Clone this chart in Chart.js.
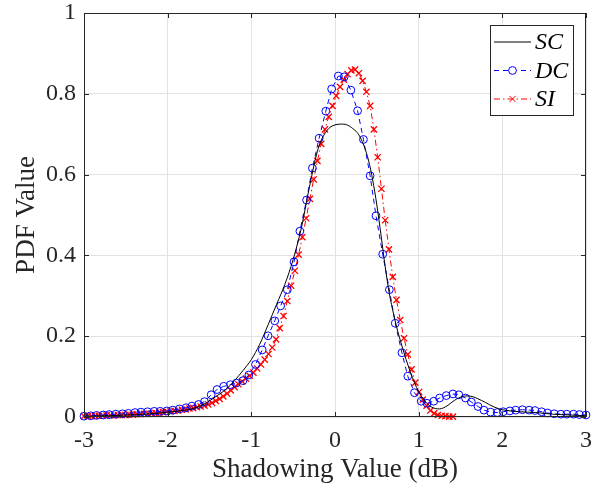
<!DOCTYPE html>
<html>
<head>
<meta charset="utf-8">
<script src="https://cdn.jsdelivr.net/npm/chart.js@4.4.0/dist/chart.umd.min.js"></script>
<style>
html, body { margin: 0; padding: 0; background: #fff; }
</style>
</head>
<body>
<canvas id="pdfChart" width="596" height="487"></canvas>
<script>
const xTicks = [-3, -2, -1, 0, 1, 2, 3];
const yTicks = [0, 0.2, 0.4, 0.6, 0.8, 1];
const seriesNames = ['SC', 'DC', 'SI'];

const scX = [-3, -2.9, -2.8, -2.7, -2.6, -2.5, -2.4, -2.3, -2.2, -2.1,
    -2.0, -1.9, -1.8, -1.7, -1.6, -1.5, -1.4, -1.3, -1.2, -1.1,
    -1.0, -0.9, -0.8, -0.7, -0.6, -0.5, -0.4, -0.3, -0.2, -0.1,
    0.0, 0.1, 0.2, 0.3, 0.4, 0.45, 0.5, 0.55, 0.6, 0.65,
    0.7, 0.75, 0.8, 0.85, 0.9, 0.95, 1.0, 1.05, 1.1, 1.15,
    1.2, 1.25, 1.3, 1.35, 1.4, 1.45, 1.5, 1.55, 1.6, 1.65,
    1.7, 1.75, 1.8, 1.85, 1.9, 1.95, 2.0, 2.1, 2.2, 2.3,
    2.4, 2.5, 2.6, 2.7, 2.8, 2.9, 3.0];
const scY = [0.002, 0.002, 0.003, 0.003, 0.004, 0.005, 0.006, 0.007, 0.008, 0.010,
    0.012, 0.014, 0.017, 0.021, 0.028, 0.040, 0.054, 0.069, 0.090, 0.115,
    0.142, 0.180, 0.228, 0.278, 0.328, 0.390, 0.470, 0.575, 0.665, 0.708,
    0.723, 0.725, 0.716, 0.693, 0.636, 0.587, 0.525, 0.450, 0.372, 0.305,
    0.255, 0.212, 0.176, 0.142, 0.112, 0.085, 0.063, 0.046, 0.033, 0.025,
    0.021, 0.020, 0.023, 0.029, 0.037, 0.044, 0.049, 0.052, 0.052, 0.050,
    0.046, 0.041, 0.036, 0.030, 0.025, 0.021, 0.018, 0.015, 0.013, 0.012,
    0.011, 0.009, 0.007, 0.006, 0.005, 0.004, 0.003];

const dcX = [-3.00, -2.92, -2.85, -2.77, -2.70, -2.62, -2.54, -2.47, -2.39, -2.32,
    -2.24, -2.16, -2.09, -2.01, -1.94, -1.86, -1.78, -1.71, -1.63, -1.56,
    -1.48, -1.41, -1.33, -1.25, -1.18, -1.10, -1.03, -0.95, -0.87, -0.80,
    -0.72, -0.65, -0.57, -0.49, -0.42, -0.34, -0.27, -0.19, -0.11, -0.04,
    0.04, 0.11, 0.19, 0.27, 0.34, 0.42, 0.49, 0.57, 0.65, 0.72,
    0.80, 0.87, 0.95, 1.03, 1.10, 1.18, 1.25, 1.33, 1.41, 1.48,
    1.56, 1.63, 1.71, 1.78, 1.86, 1.94, 2.01, 2.09, 2.16, 2.24,
    2.32, 2.39, 2.47, 2.54, 2.62, 2.70, 2.77, 2.85, 2.92, 3.00];
const dcY = [0.002, 0.003, 0.004, 0.005, 0.006, 0.007, 0.008, 0.009, 0.011, 0.012,
    0.013, 0.014, 0.014, 0.015, 0.017, 0.020, 0.023, 0.027, 0.031, 0.038,
    0.055, 0.068, 0.076, 0.080, 0.084, 0.090, 0.104, 0.130, 0.166, 0.201,
    0.238, 0.275, 0.315, 0.384, 0.460, 0.537, 0.616, 0.690, 0.757, 0.812,
    0.844, 0.842, 0.809, 0.758, 0.687, 0.597, 0.498, 0.403, 0.315, 0.232,
    0.159, 0.101, 0.060, 0.039, 0.034, 0.039, 0.047, 0.053, 0.057, 0.055,
    0.047, 0.037, 0.026, 0.017, 0.012, 0.011, 0.013, 0.015, 0.017, 0.018,
    0.017, 0.016, 0.013, 0.010, 0.008, 0.007, 0.007, 0.007, 0.006, 0.005];

const siX = [-3.000, -2.955, -2.910, -2.865, -2.820, -2.775, -2.730, -2.685, -2.640, -2.595,
    -2.550, -2.505, -2.460, -2.415, -2.370, -2.325, -2.280, -2.235, -2.190, -2.145,
    -2.100, -2.055, -2.010, -1.965, -1.920, -1.875, -1.830, -1.785, -1.740, -1.695,
    -1.650, -1.605, -1.560, -1.515, -1.470, -1.425, -1.380, -1.335, -1.290, -1.245,
    -1.200, -1.155, -1.110, -1.065, -1.020, -0.975, -0.930, -0.885, -0.840, -0.795,
    -0.750, -0.705, -0.660, -0.615, -0.570, -0.525, -0.480, -0.435, -0.390, -0.345,
    -0.300, -0.255, -0.210, -0.165, -0.120, -0.075, -0.030, 0.015, 0.060, 0.105,
    0.150, 0.195, 0.240, 0.285, 0.330, 0.375, 0.420, 0.465, 0.510, 0.555,
    0.600, 0.645, 0.690, 0.735, 0.780, 0.825, 0.870, 0.915, 0.960, 1.005,
    1.050, 1.095, 1.140, 1.185, 1.230, 1.275, 1.320, 1.365, 1.410];
const siY = [0.002, 0.002, 0.002, 0.003, 0.003, 0.003, 0.004, 0.004, 0.004, 0.005,
    0.005, 0.005, 0.006, 0.006, 0.007, 0.007, 0.008, 0.008, 0.009, 0.010,
    0.011, 0.012, 0.013, 0.014, 0.015, 0.016, 0.018, 0.019, 0.021, 0.022,
    0.024, 0.026, 0.028, 0.031, 0.035, 0.040, 0.045, 0.051, 0.058, 0.066,
    0.074, 0.081, 0.088, 0.095, 0.102, 0.110, 0.120, 0.130, 0.142, 0.156,
    0.172, 0.192, 0.220, 0.250, 0.287, 0.325, 0.362, 0.402, 0.445, 0.492,
    0.540, 0.588, 0.634, 0.676, 0.712, 0.743, 0.770, 0.795, 0.817, 0.835,
    0.849, 0.858, 0.860, 0.851, 0.832, 0.805, 0.770, 0.712, 0.643, 0.565,
    0.487, 0.415, 0.347, 0.290, 0.240, 0.195, 0.155, 0.118, 0.085, 0.062,
    0.043, 0.028, 0.016, 0.009, 0.005, 0.003, 0.002, 0.001, 0.001];

function toPoints(xs, ys) {
    return xs.map((x, i) => ({ x: x, y: ys[i] }));
}

const serif = "'Liberation Serif', 'Times New Roman', serif";
const axisColor = '#262626';

// box with inward ticks on all four sides, like the original figure
const boxPlugin = {
    id: 'boxPlugin',
    afterDatasetsDraw(chart) {
        const { ctx, chartArea: a, scales } = chart;
        ctx.save();
        ctx.strokeStyle = axisColor;
        ctx.lineWidth = 1;
        ctx.strokeRect(a.left + 0.5, a.top + 0.5, a.right - a.left - 1, a.bottom - a.top - 1);
        ctx.beginPath();
        xTicks.forEach(v => {
            const px = Math.round(scales.x.getPixelForValue(v)) + 0.5;
            ctx.moveTo(px, a.bottom);
            ctx.lineTo(px, a.bottom - 5);
            ctx.moveTo(px, a.top);
            ctx.lineTo(px, a.top + 5);
        });
        yTicks.forEach(v => {
            const py = Math.round(scales.y.getPixelForValue(v)) + 0.5;
            ctx.moveTo(a.left, py);
            ctx.lineTo(a.left + 5, py);
            ctx.moveTo(a.right, py);
            ctx.lineTo(a.right - 5, py);
        });
        ctx.stroke();
        ctx.restore();
    }
};

const legendPlugin = {
    id: 'legendPlugin',
    afterDraw(chart) {
        const { ctx, chartArea: a } = chart;
        const left = a.right - 96, top = a.top + 12, w = 83, h = 90;
        ctx.save();
        ctx.fillStyle = '#fff';
        ctx.fillRect(left, top, w, h);
        ctx.strokeStyle = axisColor;
        ctx.lineWidth = 1;
        ctx.strokeRect(left + 0.5, top + 0.5, w, h);
        chart.data.datasets.forEach((ds, i) => {
            const y = top + 17 + i * 28.5;
            const x0 = left + 4, x1 = left + 41, xm = (x0 + x1) / 2;
            ctx.strokeStyle = ds.borderColor;
            ctx.lineWidth = ds.borderWidth;
            ctx.setLineDash(ds.borderDash || []);
            ctx.beginPath();
            ctx.moveTo(x0, y);
            ctx.lineTo(x1, y);
            ctx.stroke();
            ctx.setLineDash([]);
            if (ds.pointStyle === 'circle') {
                ctx.fillStyle = '#fff';
                ctx.beginPath();
                ctx.arc(xm, y, ds.pointRadius, 0, Math.PI * 2);
                ctx.fill();
                ctx.stroke();
            } else if (ds.pointStyle === 'crossRot') {
                const r = ds.pointRadius * 0.71;
                ctx.beginPath();
                ctx.moveTo(xm - r, y - r);
                ctx.lineTo(xm + r, y + r);
                ctx.moveTo(xm - r, y + r);
                ctx.lineTo(xm + r, y - r);
                ctx.stroke();
            }
            ctx.fillStyle = '#000';
            ctx.font = 'italic 24px ' + serif;
            ctx.textBaseline = 'middle';
            ctx.textAlign = 'left';
            ctx.fillText(seriesNames[i], left + 45, y + 1);
        });
        ctx.restore();
    }
};

new Chart(document.getElementById('pdfChart').getContext('2d'), {
    type: 'line',
    data: {
        datasets: [{
            label: seriesNames[0],
            data: toPoints(scX, scY),
            borderColor: '#000000',
            borderWidth: 1,
            pointRadius: 0,
            pointStyle: false,
            cubicInterpolationMode: 'monotone',
            fill: false
        },
        {
            label: seriesNames[1],
            data: toPoints(dcX, dcY),
            borderColor: '#0000ff',
            borderWidth: 1,
            borderDash: [5, 4],
            pointStyle: 'circle',
            pointRadius: 3.9,
            pointBorderWidth: 1,
            pointBorderColor: '#0000ff',
            pointBackgroundColor: 'rgba(0,0,0,0)',
            tension: 0,
            fill: false
        },
        {
            label: seriesNames[2],
            data: toPoints(siX, siY),
            borderColor: '#ff0000',
            borderWidth: 1,
            borderDash: [6, 3, 1.5, 3],
            pointStyle: 'crossRot',
            pointRadius: 4.4,
            pointBorderWidth: 1.3,
            pointBorderColor: '#ff0000',
            tension: 0,
            fill: false
        }]
    },
    options: {
        responsive: false,
        animation: false,
        devicePixelRatio: 1,
        events: [],
        clip: false,
        layout: {
            padding: { left: 0, right: 10, top: 13, bottom: 0 }
        },
        plugins: {
            legend: { display: false },
            tooltip: { enabled: false },
            title: { display: false }
        },
        scales: {
            x: {
                type: 'linear',
                min: -3,
                max: 3,
                afterFit(scale) {
                    scale.height = 70;
                    scale.paddingLeft = 0;
                    scale.paddingRight = 0;
                },
                afterBuildTicks(scale) { scale.ticks = xTicks.map(v => ({ value: v })); },
                grid: { color: '#e2e2e2', lineWidth: 1, drawTicks: false },
                border: { display: false },
                ticks: {
                    padding: 9,
                    color: axisColor,
                    font: { family: serif, size: 24 },
                    callback: v => String(v)
                },
                title: {
                    display: true,
                    text: 'Shadowing Value (dB)',
                    color: axisColor,
                    font: { family: serif, size: 27 },
                    padding: { top: 0, bottom: 1 }
                }
            },
            y: {
                min: 0,
                max: 1,
                afterFit(scale) {
                    scale.width = 84;
                    scale.paddingTop = 0;
                    scale.paddingBottom = 0;
                },
                afterBuildTicks(scale) { scale.ticks = yTicks.map(v => ({ value: v })); },
                grid: { color: '#e2e2e2', lineWidth: 1, drawTicks: false },
                border: { display: false },
                ticks: {
                    padding: 8,
                    color: axisColor,
                    font: { family: serif, size: 24 },
                    callback: v => String(v)
                },
                title: {
                    display: true,
                    text: 'PDF Value',
                    color: axisColor,
                    font: { family: serif, size: 27 },
                    padding: { top: 11, bottom: 0 }
                }
            }
        }
    },
    plugins: [boxPlugin, legendPlugin]
});
</script>
</body>
</html>
